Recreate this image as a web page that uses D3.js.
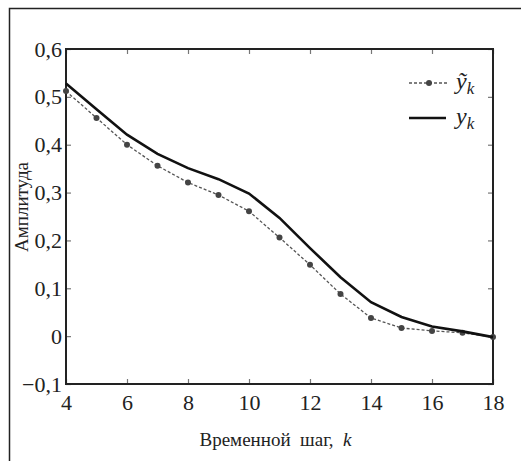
<!DOCTYPE html>
<html>
<head>
<meta charset="utf-8">
<script src="https://cdn.jsdelivr.net/npm/d3@7"></script>
<style>
  @font-face { font-family: "ChartSerif"; src: local("Liberation Serif"), local("LiberationSerif"); }
  @font-face { font-family: "ChartSerif"; font-style: italic; src: local("Liberation Serif Italic"), local("LiberationSerif-Italic"); }
</style>
</head>
<body style="margin:0">
<script>
// data
var steps = [4, 5, 6, 7, 8, 9, 10, 11, 12, 13, 14, 15, 16, 17, 18];
var yTilde = [0.512, 0.456, 0.400, 0.356, 0.321, 0.295, 0.261, 0.206, 0.149, 0.088, 0.038, 0.017, 0.011, 0.007, -0.002];
var yTrue = [0.528, 0.474, 0.421, 0.381, 0.351, 0.328, 0.298, 0.247, 0.184, 0.123, 0.071, 0.040, 0.020, 0.010, -0.002];
var xTicks = [4, 6, 8, 10, 12, 14, 16, 18];
var yTicks = [-0.1, 0, 0.1, 0.2, 0.3, 0.4, 0.5, 0.6];

var FONT = "'Liberation Serif'";
var W = 521, H = 461;
var margin = { top: 49, right: 28, bottom: 77, left: 66 },
    width = W - margin.left - margin.right,
    height = H - margin.top - margin.bottom;

var svg = d3.select("body")
    .append("svg")
    .attr("width", W)
    .attr("height", H);

// outer frame (runs off the right/bottom edge)
svg.append("rect")
    .attr("x", 9.5).attr("y", 8.5)
    .attr("width", W + 10).attr("height", H + 10)
    .attr("fill", "none")
    .attr("stroke", "#222")
    .attr("stroke-width", 1.5);

var g = svg.append("g")
    .attr("transform", "translate(" + margin.left + "," + margin.top + ")");

var x = d3.scaleLinear().domain([4, 18]).range([0, width]);
var y = d3.scaleLinear().domain([-0.1, 0.6]).range([height, 0]);

function fmt(d) {
    if (d === 0) return "0";
    return (d < 0 ? "\u2212" : "") + d3.format(".1f")(Math.abs(d)).replace(".", ",");
}

// axes, ticks pointing inward
var xAxis = g.append("g")
    .attr("transform", "translate(0," + height + ")")
    .call(d3.axisBottom(x).tickValues(xTicks).tickSizeInner(-5).tickSizeOuter(0).tickPadding(10).tickFormat(d3.format("d")));
var xTop = g.append("g")
    .call(d3.axisTop(x).tickValues(xTicks).tickSizeInner(-5).tickSizeOuter(0).tickFormat(""));
var yAxis = g.append("g")
    .call(d3.axisLeft(y).tickValues(yTicks).tickSizeInner(-5).tickSizeOuter(0).tickPadding(4).tickFormat(fmt));
var yRight = g.append("g")
    .attr("transform", "translate(" + width + ",0)")
    .call(d3.axisRight(y).tickValues(yTicks).tickSizeInner(-5).tickSizeOuter(0).tickFormat(""));

[xAxis, xTop, yAxis, yRight].forEach(function (a) {
    a.attr("font-family", null).attr("font-size", null);
    a.select(".domain").remove();
    a.selectAll(".tick line").attr("stroke", "#777").attr("stroke-width", 1.2);
    a.selectAll(".tick text")
        .attr("fill", "#222")
        .style("font-family", FONT)
        .style("font-size", "22px");
});

// plot box
g.append("rect")
    .attr("width", width).attr("height", height)
    .attr("fill", "none")
    .attr("stroke", "#222")
    .attr("stroke-width", 2);

var line = d3.line()
    .x(function (d, i) { return x(steps[i]); })
    .y(function (d) { return y(d); });

// estimated series: dashed with dots
g.append("path")
    .datum(yTilde)
    .attr("d", line)
    .attr("fill", "none")
    .attr("stroke", "#555")
    .attr("stroke-width", 1.3)
    .attr("stroke-dasharray", "3,2");

g.selectAll(".dot")
    .data(yTilde)
    .enter()
    .append("circle")
    .attr("class", "dot")
    .attr("cx", function (d, i) { return x(steps[i]); })
    .attr("cy", function (d) { return y(d); })
    .attr("r", 3)
    .attr("fill", "#444");

// true series: thick solid
g.append("path")
    .datum(yTrue)
    .attr("d", line)
    .attr("fill", "none")
    .attr("stroke", "#111")
    .attr("stroke-width", 2.6);

// legend
var lg = g.append("g").attr("transform", "translate(" + (width - 84) + ",34)");
lg.append("line")
    .attr("x1", 0).attr("x2", 38).attr("y1", 0).attr("y2", 0)
    .attr("stroke", "#555").attr("stroke-width", 1.3).attr("stroke-dasharray", "3,2");
lg.append("circle").attr("cx", 20).attr("cy", 0).attr("r", 3).attr("fill", "#444");
lg.append("text")
    .attr("x", 47).attr("y", 6)
    .style("font-family", FONT)
    .style("font-size", "24px").style("font-style", "italic").attr("fill", "#222")
    .html("\u1EF9<tspan dy='5' font-size='17'>k</tspan>");
lg.append("line")
    .attr("x1", 0).attr("x2", 37).attr("y1", 35).attr("y2", 35)
    .attr("stroke", "#111").attr("stroke-width", 2.6);
lg.append("text")
    .attr("x", 47).attr("y", 41)
    .style("font-family", FONT)
    .style("font-size", "24px").style("font-style", "italic").attr("fill", "#222")
    .html("y<tspan dy='5' font-size='17'>k</tspan>");

// axis titles
svg.append("text")
    .attr("x", margin.left + width / 2 - 4)
    .attr("y", 446)
    .attr("text-anchor", "middle")
    .style("font-family", FONT)
    .style("font-size", "19px")
    .attr("fill", "#222")
    .html("Временной&#160; шаг,&#160; <tspan font-style='italic'>k</tspan>");

svg.append("text")
    .attr("transform", "translate(28,207) rotate(-90)")
    .attr("text-anchor", "middle")
    .style("font-family", FONT)
    .style("font-size", "19px")
    .attr("fill", "#222")
    .text("Амплитуда");
</script>
</body>
</html>
